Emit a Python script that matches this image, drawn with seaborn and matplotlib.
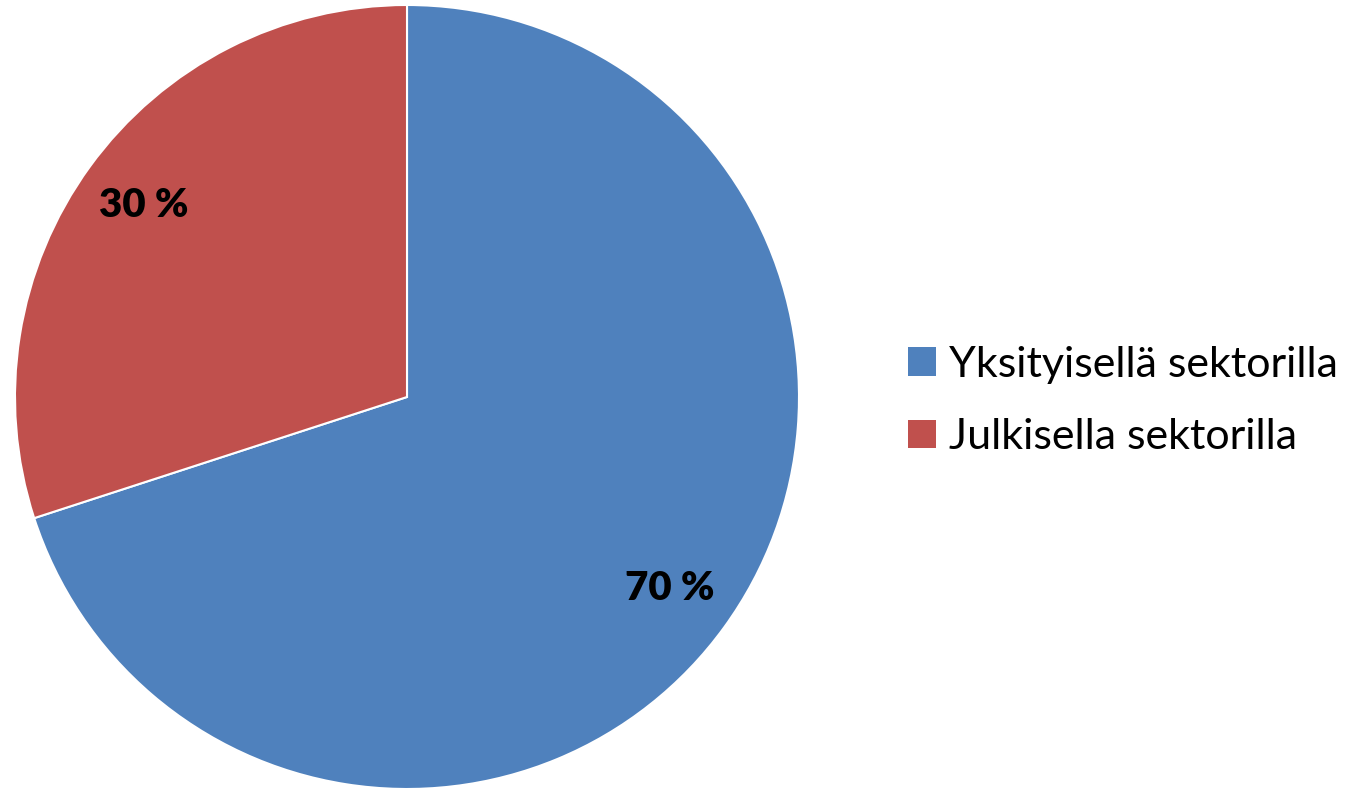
import matplotlib
matplotlib.use("Agg")
import matplotlib.pyplot as plt
import seaborn as sns
from matplotlib.patches import Patch

# data
categories = ["Yksityisellä sektorilla", "Julkisella sektorilla"]
shares = [70, 30]
colors = ["#4F81BD", "#C0504D"]

sns.set_theme(style="white")
plt.rcParams['font.family'] = ['Lato', 'DejaVu Sans']

fig = plt.figure(figsize=(13.63, 7.88), dpi=100)

# pie area: centre ~ (407, 397) px, radius ~ 392 px
cx, cy, r = 407, 397, 392
W, H = 1363, 788
ax = fig.add_axes([(cx - r) / W, (H - cy - r) / H, 2 * r / W, 2 * r / H])

wedges, texts, autotexts = ax.pie(
    shares,
    colors=colors,
    startangle=90,
    counterclock=False,
    autopct=lambda p: f"{p:.0f} %",
    pctdistance=0.83,
    wedgeprops=dict(edgecolor="white", linewidth=1.5),
    textprops=dict(fontsize=29, fontweight="heavy", color="black"),
)
ax.set_xlim(-1, 1)
ax.set_ylim(-1, 1)
ax.set_aspect("equal")

handles = [Patch(facecolor=c, edgecolor="none") for c in colors]
leg = fig.legend(
    handles,
    categories,
    loc="center left",
    bbox_to_anchor=(908 / W, 1 - 401 / H),
    frameon=False,
    fontsize=31,
    borderpad=0,
    borderaxespad=0,
    handlelength=0.65,
    handleheight=0.65,
    handletextpad=0.3,
    labelspacing=0.8,
)
for t in leg.get_texts():
    t.set_color("black")

fig.savefig("out.png", dpi=100)
